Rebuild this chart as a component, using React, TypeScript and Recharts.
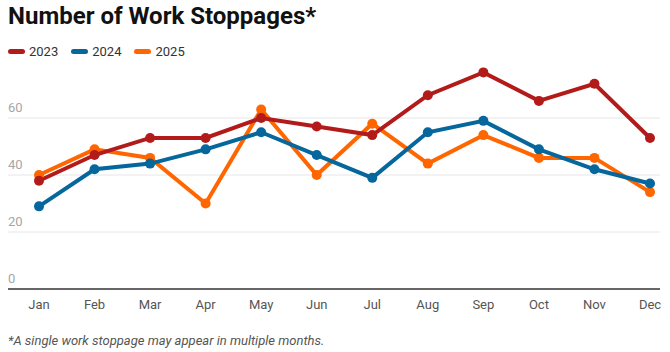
import { LineChart, Line, XAxis, YAxis, CartesianGrid } from "recharts"

const months = ["Jan", "Feb", "Mar", "Apr", "May", "Jun", "Jul", "Aug", "Sep", "Oct", "Nov", "Dec"]
const y2023 = [38, 47, 53, 53, 60, 57, 54, 68, 76, 66, 72, 53]
const y2024 = [29, 42, 44, 49, 55, 47, 39, 55, 59, 49, 42, 37]
const y2025 = [40, 49, 46, 30, 63, 40, 58, 44, 54, 46, 46, 34]
const yTicks = [0, 20, 40, 60]
const gridValues = [20, 40, 60]

const series = [
  { key: "2023", color: "#b31b1b" },
  { key: "2024", color: "#05679b" },
  { key: "2025", color: "#ff6600" },
]

const data = months.map((m, i) => ({
  month: m,
  "2023": y2023[i],
  "2024": y2024[i],
  "2025": y2025[i],
}))

const font = "Roboto, 'Noto Sans', sans-serif"

const renderYTick = (props: any) => (
  <text key={props.payload.value} x={8} y={props.y - 6} fill="#a6a6a6" fontSize={13} fontFamily={font}>
    {props.payload.value}
  </text>
)

export default function App() {
  // draw order: 2025 at the bottom, 2023 on top
  const drawOrder = [series[2], series[1], series[0]]
  return (
    <div
      style={{
        position: "absolute",
        left: 0,
        top: 0,
        width: 670,
        height: 352,
        background: "#fff",
        fontFamily: font,
        overflow: "hidden",
      }}
    >
      <div
        style={{
          position: "absolute",
          left: 8,
          top: 2,
          fontSize: 24,
          fontWeight: 700,
          color: "#111",
        }}
      >
        Number of Work Stoppages*
      </div>
      <div
        style={{
          position: "absolute",
          left: 8,
          top: 44,
          display: "flex",
          alignItems: "center",
          fontSize: 13,
          color: "#333",
        }}
      >
        {series.map((s) => (
          <div key={s.key} style={{ display: "flex", alignItems: "center", marginRight: 13 }}>
            <span
              style={{
                display: "inline-block",
                width: 17,
                height: 5,
                borderRadius: 3,
                background: s.color,
                marginRight: 4,
              }}
            />
            <span>{s.key}</span>
          </div>
        ))}
      </div>
      <div style={{ position: "absolute", left: 0, top: 0 }}>
        <LineChart
          width={670}
          height={320}
          data={data}
          margin={{ top: 61, right: 10, left: 7, bottom: 1 }}
        >
          <CartesianGrid
            vertical={false}
            horizontalValues={gridValues}
            stroke="#e6e6e6"
            strokeWidth={1}
          />
          <XAxis
            dataKey="month"
            padding={{ left: 31, right: 10 }}
            height={30}
            tickSize={0}
            tickMargin={11}
            axisLine={{ stroke: "#666", strokeWidth: 2 }}
            tickLine={false}
            tick={{ fill: "#555", fontSize: 13, fontFamily: font }}
            interval={0}
          />
          <YAxis
            width={1}
            domain={[0, 80]}
            ticks={yTicks}
            interval={0}
            axisLine={false}
            tickLine={false}
            tick={renderYTick}
          />
          {drawOrder.map((s) => (
            <Line
              key={s.key}
              dataKey={s.key}
              type="linear"
              stroke={s.color}
              strokeWidth={4}
              dot={{ r: 5, fill: s.color, stroke: s.color, strokeWidth: 0 }}
              isAnimationActive={false}
            />
          ))}
        </LineChart>
      </div>
      <div
        style={{
          position: "absolute",
          left: 8,
          top: 333,
          fontSize: 13,
          fontStyle: "italic",
          color: "#555",
        }}
      >
        *A single work stoppage may appear in multiple months.
      </div>
    </div>
  )
}
